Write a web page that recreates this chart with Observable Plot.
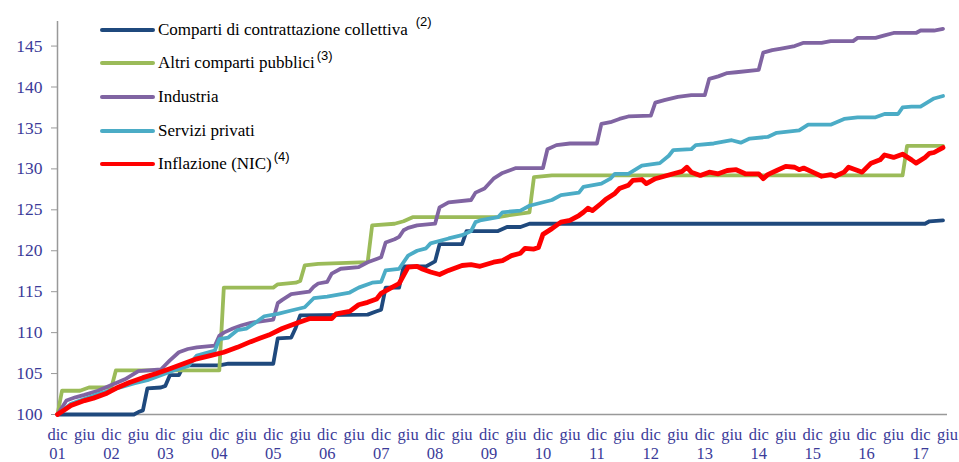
<!DOCTYPE html>
<html><head><meta charset="utf-8">
<script src="https://cdn.jsdelivr.net/npm/d3@7"></script>
<script src="https://cdn.jsdelivr.net/npm/@observablehq/plot@0.6"></script>
<style>
body{margin:0;background:#fff;}
#wrap{position:relative;width:959px;height:462px;}
#legend{position:absolute;left:100px;top:13px;font-family:"Liberation Serif","Times New Roman",serif;font-size:17px;color:#000;}
.row{display:flex;align-items:center;height:33.6px;white-space:nowrap;}
.sw{width:55px;height:4px;border-radius:2px;margin-right:3px;flex:none;}
.sup{font-family:"Liberation Sans",Arial,sans-serif;font-size:13px;position:relative;top:-8px;margin-left:2px;}
#wrap svg, #wrap svg text, #wrap svg tspan{font-family:"Liberation Serif","Times New Roman",serif !important;}
</style></head><body><div id="wrap"><div id="legend"></div></div>
<script>
// month index: 0 = dic 2001, 6 = giu 2002, ... 198 = last "giu" slot
const seriesNames = ["Comparti di contrattazione collettiva","Altri comparti pubblici","Industria","Servizi privati","Inflazione (NIC)"];
const seriesNotes = ["(2)","(3)","","","(4)"];
const seriesColors = ["#1f497d","#9bbb59","#8064a2","#4bacc6","#ff0000"];
const seriesWidths = [3.8,3.8,3.8,3.8,4.8];

const comparti = [[0,100],[17,100],[18,100.3],[19,100.5],[20,103.2],[23,103.3],[24,103.5],[25,104.8],[27,104.8],[28,105.9],[29,106.0],[36,106.0],[38,106.2],[48,106.2],[49,109.3],[52,109.4],[53,110.6],[54,112.1],[69,112.2],[71,112.6],[72,112.8],[73,115.5],[76,115.5],[77,118.1],[82,118.1],[84,118.7],[85,120.8],[90,120.8],[91,122.4],[98,122.4],[100,122.9],[103,122.9],[105,123.3],[193,123.3],[194,123.6],[197,123.7]];
const altri = [[0,100],[1,102.9],[5,102.9],[7,103.3],[12,103.3],[13,105.4],[36,105.4],[37,115.5],[48,115.5],[49,115.9],[53,116.1],[54,116.3],[55,118.2],[58,118.4],[69,118.6],[70,123.1],[75,123.3],[77,123.6],[79,124.1],[98,124.1],[100,124.3],[105,124.7],[106,129.0],[110,129.2],[188,129.2],[189,132.8],[197,132.8]];
const industria = [[0,100],[2,101.7],[4,102.1],[6,102.4],[9,102.9],[12,103.6],[15,104.3],[18,105.3],[23,105.5],[25,106.6],[27,107.6],[29,108.0],[31,108.2],[35,108.4],[36,109.6],[37,110.0],[39,110.5],[41,110.9],[43,111.2],[48,111.6],[49,113.6],[50,114.0],[52,114.7],[56,115.0],[57,115.6],[58,116.0],[60,116.2],[61,117.2],[63,117.8],[67,118.0],[69,118.6],[71,119.0],[72,119.2],[73,121.0],[75,121.4],[76,121.7],[77,122.5],[78,122.8],[80,123.1],[84,123.3],[85,125.3],[87,125.9],[92,126.2],[93,127.1],[95,127.6],[97,128.8],[99,129.5],[102,130.1],[108,130.1],[109,132.4],[111,132.9],[114,133.1],[120,133.1],[121,135.5],[123,135.7],[125,136.1],[127,136.4],[132,136.5],[133,138.1],[135,138.4],[138,138.8],[141,139.0],[144,139.0],[145,141.0],[147,141.3],[149,141.7],[151,141.8],[156,142.1],[157,144.2],[159,144.5],[161,144.7],[164,145.0],[166,145.4],[170,145.4],[172,145.6],[177,145.6],[178,146.0],[182,146.0],[184,146.3],[186,146.6],[191,146.6],[192,146.9],[195,146.9],[197,147.1]];
const servizi = [[0,100],[3,101.3],[8,102.3],[12,103.0],[17,103.8],[20,104.2],[26,105.4],[29,105.9],[31,107.2],[35,107.8],[36,109.2],[38,109.4],[40,110.3],[42,110.5],[44,111.2],[46,112.0],[49,112.3],[52,112.7],[55,113.1],[57,114.2],[60,114.4],[65,114.9],[67,115.5],[70,116.1],[72,116.2],[73,117.6],[76,117.8],[78,119.4],[80,120.0],[82,120.3],[83,120.9],[87,121.5],[90,121.9],[92,122.4],[93,123.5],[94,123.7],[98,124.1],[99,124.7],[103,124.9],[105,125.5],[110,126.2],[112,126.8],[116,127.1],[117,127.8],[121,128.2],[123,128.8],[124,129.4],[127,129.4],[130,130.4],[134,130.7],[136,131.6],[137,132.3],[141,132.4],[142,132.9],[146,133.1],[150,133.5],[152,133.2],[154,133.7],[158,133.9],[160,134.4],[165,134.7],[167,135.4],[172,135.4],[175,136.1],[178,136.3],[182,136.3],[184,136.7],[187,136.7],[188,137.5],[190,137.6],[192,137.6],[195,138.6],[197,138.9]];
const inflazione = [[0,100],[3,101.1],[6,101.7],[8,102.0],[11,102.6],[13,103.2],[16,103.9],[19,104.5],[22,105.0],[25,105.6],[28,106.2],[31,106.8],[34,107.2],[37,107.6],[40,108.2],[43,108.9],[45,109.3],[47,109.7],[50,110.5],[53,111.1],[56,111.7],[61,111.7],[62,112.3],[65,112.6],[67,113.4],[69,113.7],[71,114.1],[72,114.8],[74,115.4],[76,116.0],[77,117.0],[78,118.0],[80,118.1],[81,117.8],[83,117.4],[85,117.1],[87,117.6],[90,118.2],[92,118.3],[94,118.1],[97,118.6],[99,118.8],[101,119.4],[103,119.7],[104,120.3],[106,120.2],[107,120.4],[108,122.0],[110,122.7],[112,123.5],[114,123.7],[116,124.3],[117,124.7],[118,125.2],[119,124.9],[121,125.8],[122,126.3],[124,127.0],[125,127.6],[127,128.0],[128,128.6],[130,128.7],[131,128.2],[133,128.8],[135,129.1],[137,129.4],[139,129.7],[140,130.2],[141,129.6],[143,129.2],[145,129.6],[147,129.4],[149,129.8],[151,129.9],[153,129.4],[156,129.4],[157,128.8],[158,129.3],[160,129.8],[162,130.3],[164,130.2],[165,129.9],[166,130.1],[168,129.6],[170,129.1],[172,129.3],[173,129.1],[175,129.6],[176,130.2],[178,129.8],[179,129.6],[181,130.7],[183,131.1],[184,131.7],[186,131.4],[188,131.8],[190,131.1],[191,130.7],[193,131.4],[194,131.9],[195,132.0],[197,132.6]];

const xTickMonths = [0,6,12,18,24,30,36,42,48,54,60,66,72,78,84,90,96,102,108,114,120,126,132,138,144,150,156,162,168,174,180,186,192,198];
const xTickLabels = ["dic\n01","giu","dic\n02","giu","dic\n03","giu","dic\n04","giu","dic\n05","giu","dic\n06","giu","dic\n07","giu","dic\n08","giu","dic\n09","giu","dic\n10","giu","dic\n11","giu","dic\n12","giu","dic\n13","giu","dic\n14","giu","dic\n15","giu","dic\n16","giu","dic\n17","giu"];
const yTicks = [100,105,110,115,120,125,130,135,140,145];

const allSeries = [comparti, altri, industria, servizi, inflazione];
const labelColor = "#3b3b99";
const serif = "Liberation Serif";

const lineMarks = allSeries.map((pts, i) =>
  Plot.line(pts.map(([m, v]) => ({m, v, s: seriesNames[i]})), {
    x: "m", y: "v", stroke: seriesColors[i], strokeWidth: seriesWidths[i],
    strokeLinejoin: "round", strokeLinecap: "round"
  })
);

const chart = Plot.plot({
  width: 959, height: 462,
  marginLeft: 57, marginRight: 12, marginTop: 21, marginBottom: 48,
  x: {domain: [0, 198]},
  y: {domain: [100, 148]},
  style: {background: "#fff", overflow: "visible", fontFamily: serif},
  marks: [
    Plot.axisY({ticks: yTicks, tickSize: 6, tickPadding: 9, label: null, fontSize: 17.5, fontFamily: serif, fill: labelColor, stroke: "#999", tickFormat: d => String(d)}),
    Plot.axisX({ticks: xTickMonths, tickSize: 0, tickPadding: 12, label: null, fontSize: 16.5, fontFamily: serif, fill: labelColor, lineHeight: 1.15,
      tickFormat: d => xTickLabels[xTickMonths.indexOf(d)]}),
    Plot.ruleX([0], {stroke: "#999", strokeWidth: 1.5}),
    Plot.ruleY([100], {stroke: "#999", strokeWidth: 1.5}),
    ...lineMarks
  ]
});
document.getElementById("wrap").prepend(chart);

const legend = document.getElementById("legend");
seriesNames.forEach((name, i) => {
  const row = document.createElement("div");
  row.className = "row";
  const sw = document.createElement("span");
  sw.className = "sw"; sw.style.background = seriesColors[i];
  const t = document.createElement("span");
  t.textContent = name;
  row.append(sw, t);
  if (seriesNotes[i]) {
    const s = document.createElement("span");
    s.className = "sup"; s.textContent = seriesNotes[i];
    if (i === 0) s.style.marginLeft = "8px";
    row.append(s);
  }
  legend.append(row);
});
</script>
</body></html>
